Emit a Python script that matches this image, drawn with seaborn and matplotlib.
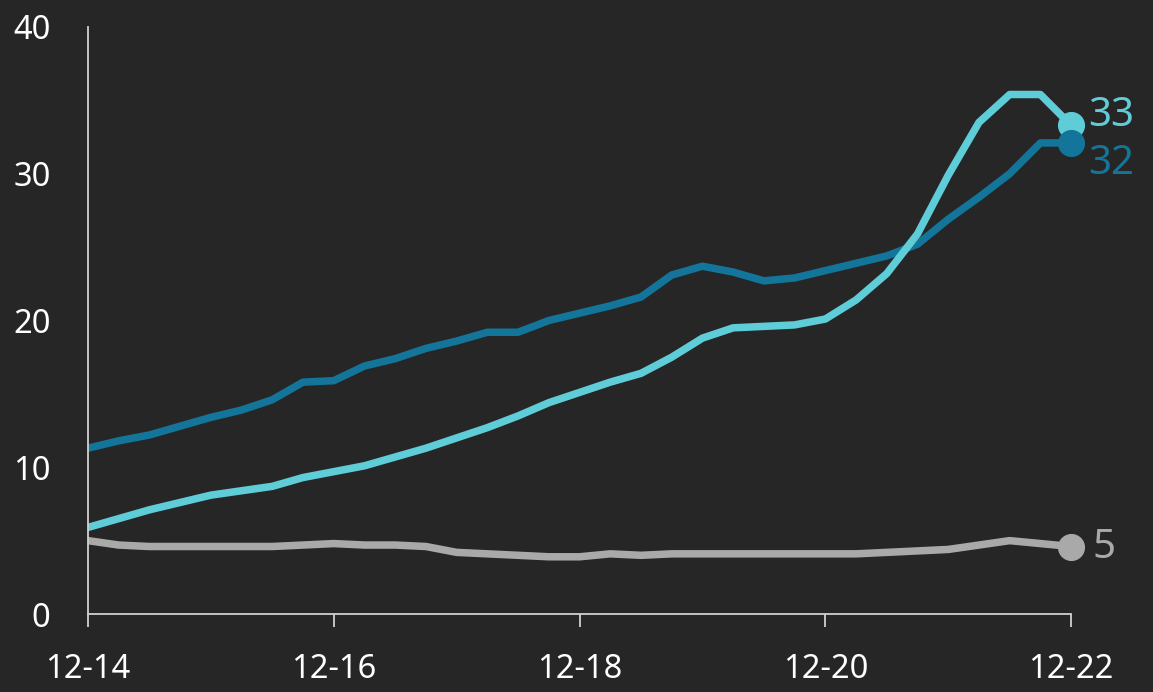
import numpy as np
import pandas as pd
import matplotlib
matplotlib.use('Agg')
import matplotlib.pyplot as plt
import seaborn as sns

# quarterly data, 12-14 .. 12-22
quarters = list(range(33))
tick_pos = [0, 8, 16, 24, 32]
tick_labels = ['12-14', '12-16', '12-18', '12-20', '12-22']

serie_a = [5.9, 6.5, 7.1, 7.6, 8.1, 8.4, 8.7, 9.3, 9.7, 10.1, 10.7, 11.3, 12.0,
           12.7, 13.5, 14.4, 15.1, 15.8, 16.4, 17.5, 18.8, 19.5, 19.6, 19.7,
           20.1, 21.4, 23.2, 25.9, 29.9, 33.5, 35.4, 35.4, 33.3]
serie_b = [11.3, 11.8, 12.2, 12.8, 13.4, 13.9, 14.6, 15.8, 15.9, 16.9, 17.4,
           18.1, 18.6, 19.2, 19.2, 20.0, 20.5, 21.0, 21.6, 23.1, 23.7, 23.3,
           22.7, 22.9, 23.4, 23.9, 24.4, 25.2, 26.9, 28.4, 30.0, 32.1, 32.1]
serie_c = [5.0, 4.7, 4.6, 4.6, 4.6, 4.6, 4.6, 4.7, 4.8, 4.7, 4.7, 4.6, 4.2,
           4.1, 4.0, 3.9, 3.9, 4.1, 4.0, 4.1, 4.1, 4.1, 4.1, 4.1, 4.1, 4.1,
           4.2, 4.3, 4.4, 4.7, 5.0, 4.8, 4.6]
end_labels = ['33', '32', '5']

warna = {'a': '#5ecdd8', 'b': '#127599', 'c': '#a9a9a9'}
bg = '#262626'

df = pd.DataFrame({
    'q': quarters * 3,
    'val': serie_a + serie_b + serie_c,
    'serie': ['a'] * 33 + ['b'] * 33 + ['c'] * 33,
})

sns.set_style('dark')
plt.rcParams['font.family'] = ['Noto Sans', 'DejaVu Sans']

fig = plt.figure(figsize=(11.53, 6.92), dpi=100, facecolor=bg)
ax = fig.add_axes([0.0763, 0.1127, 0.8527, 0.8483])
ax.set_facecolor(bg)

# gray first so colored lines sit on top
for s in ['c', 'b', 'a']:
    sns.lineplot(x='q', y='val', data=df[df['serie'] == s], color=warna[s],
                 linewidth=5.4, ax=ax, legend=False)

ujung = {'a': (serie_a[-1], end_labels[0]), 'b': (serie_b[-1], end_labels[1]),
         'c': (serie_c[-1], end_labels[2])}
for s in ['c', 'a', 'b']:
    v, lbl = ujung[s]
    ax.plot(quarters[-1], v, 'o', color=warna[s], markersize=18.5, clip_on=False, zorder=5)
offs = {'a': (12, 7), 'b': (12, -15), 'c': (15, -1)}
for s in ['a', 'b', 'c']:
    v, lbl = ujung[s]
    ax.annotate(lbl, (quarters[-1], v), xytext=offs[s], textcoords='offset points',
                color=warna[s], fontsize=29, va='center', ha='left', annotation_clip=False)

ax.set_xlim(0, 32)
ax.set_ylim(0, 40)
ax.set_xticks(tick_pos)
ax.set_xticklabels(tick_labels)
ax.set_yticks([0, 10, 20, 30, 40])
ax.tick_params(axis='x', bottom=True, colors='#d0d0d0', length=9, width=1.3,
               direction='out', pad=19, labelsize=23.5, labelcolor='white')
ax.tick_params(axis='y', left=False, length=0, pad=27, labelsize=23.5, labelcolor='white')
ax.set_xlabel('')
ax.set_ylabel('')
ax.grid(False)
for side in ['top', 'right']:
    ax.spines[side].set_visible(False)
for side in ['left', 'bottom']:
    ax.spines[side].set_color('#d0d0d0')
    ax.spines[side].set_linewidth(1.3)

fig.savefig('out.png', dpi=100, facecolor=bg)
